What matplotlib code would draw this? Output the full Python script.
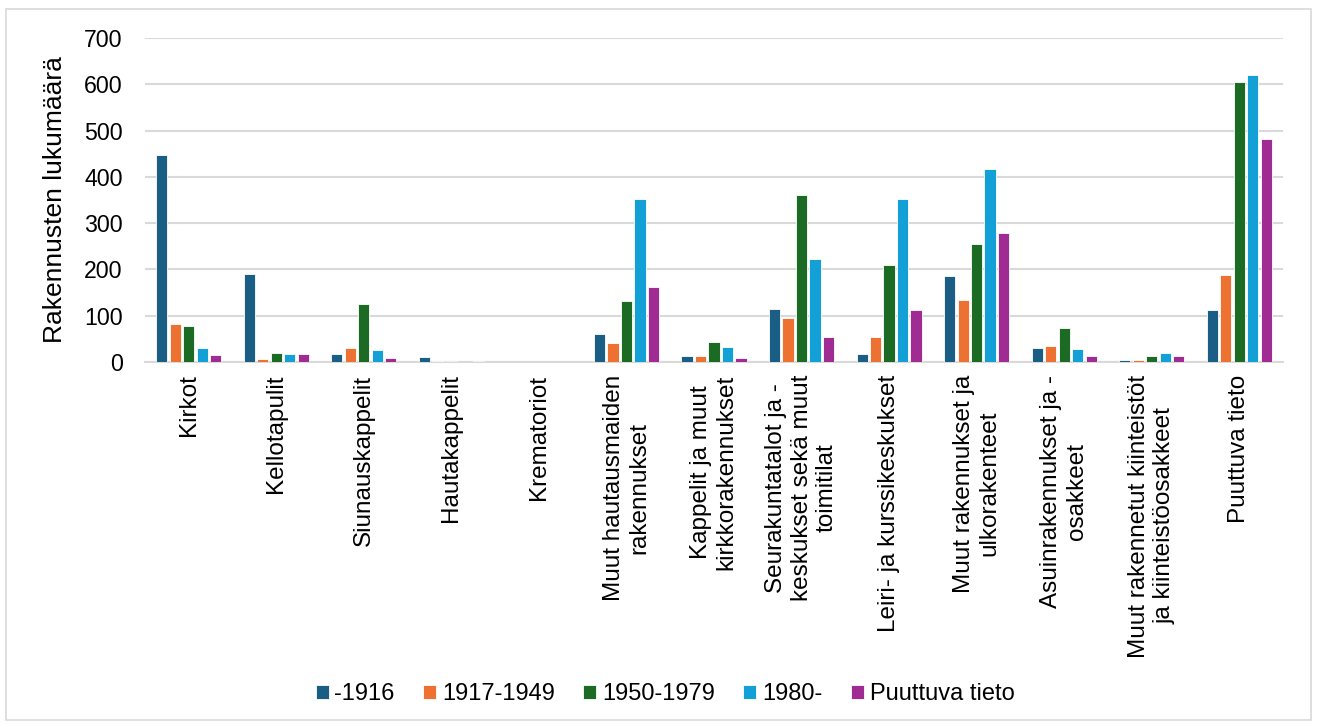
import matplotlib
matplotlib.use("Agg")
import matplotlib.pyplot as plt
import numpy as np
from matplotlib.patches import Rectangle

plt.rcParams['font.family'] = ['Liberation Sans', 'DejaVu Sans']

categories = [
    "Kirkot",
    "Kellotapulit",
    "Siunauskappelit",
    "Hautakappelit",
    "Krematoriot",
    "Muut hautausmaiden\nrakennukset",
    "Kappelit ja muut\nkirkkorakennukset",
    "Seurakuntatalot ja -\nkeskukset sekä muut\ntoimitilat",
    "Leiri- ja kurssikeskukset",
    "Muut rakennukset ja\nulkorakenteet",
    "Asuinrakennukset ja -\nosakkeet",
    "Muut rakennetut kiinteistöt\nja kiinteistöosakkeet",
    "Puuttuva tieto",
]

series_names = ["-1916", "1917-1949", "1950-1979", "1980-", "Puuttuva tieto"]

s_1916 = [448, 190, 17, 10, 0, 60, 12, 114, 17, 185, 31, 4, 112]
s_1917_1949 = [82, 7, 30, 2, 0, 40, 14, 96, 54, 134, 34, 4, 189]
s_1950_1979 = [77, 20, 125, 2, 1, 132, 43, 360, 209, 256, 73, 12, 604]
s_1980 = [30, 17, 26, 0, 1, 353, 33, 222, 352, 418, 29, 19, 619]
s_puuttuva = [15, 17, 8, 2, 0, 163, 8, 53, 113, 279, 14, 12, 482]

series = [s_1916, s_1917_1949, s_1950_1979, s_1980, s_puuttuva]
colors = ["#1a5e85", "#ed7232", "#1b6b24", "#12a0d7", "#a02b93"]

W, H = 1317, 726
fig = plt.figure(figsize=(W / 100, H / 100), dpi=100)
fig.patch.set_facecolor("white")
fig.patches.append(Rectangle((6 / W, 1 - 720 / H), (1311 - 6) / W, (720 - 9) / H,
                             transform=fig.transFigure, fill=False,
                             edgecolor="#d9d9d9", linewidth=1.2))

ax = fig.add_axes([145 / W, 1 - 362 / H, (1283 - 145) / W, (362 - 38) / H])

x = np.arange(len(categories))
step = 0.154
bw = 0.128
for i, (vals, c, name) in enumerate(zip(series, colors, series_names)):
    ax.bar(x + (i - 2) * step, vals, width=bw, color=c, label=name,
           edgecolor="white", linewidth=0.6, zorder=3)

ax.set_xlim(-0.5, len(categories) - 0.5)
ax.set_ylim(0, 700)
ax.set_yticks(range(0, 701, 100))
ax.grid(axis="y", color="#d9d9d9", linewidth=1.5, zorder=0)
ax.set_axisbelow(True)
for s in ["top", "right", "left"]:
    ax.spines[s].set_visible(False)
ax.spines["bottom"].set_color("#d9d9d9")
ax.spines["bottom"].set_linewidth(1.5)

ax.set_xticks(x)
ax.set_xticklabels(categories, rotation=90, fontsize=17.5, ha="center", va="top",
                   multialignment="center", linespacing=1.2)
ax.tick_params(axis="x", length=0, pad=9, colors="black")
ax.tick_params(axis="y", length=0, pad=16, labelsize=16.7, colors="black")

ax.set_ylabel("Rakennusten lukumäärä", fontsize=19)
ax.yaxis.set_label_coords(-0.079, 0.5)
ax.yaxis.label.set_verticalalignment("center")

leg = fig.legend(loc="center", bbox_to_anchor=(665 / W, 1 - 694 / H), ncol=5,
                 frameon=False, fontsize=17, handlelength=0.55, handleheight=0.55,
                 handletextpad=0.25, columnspacing=1.2)

fig.savefig("out.png", dpi=100)
